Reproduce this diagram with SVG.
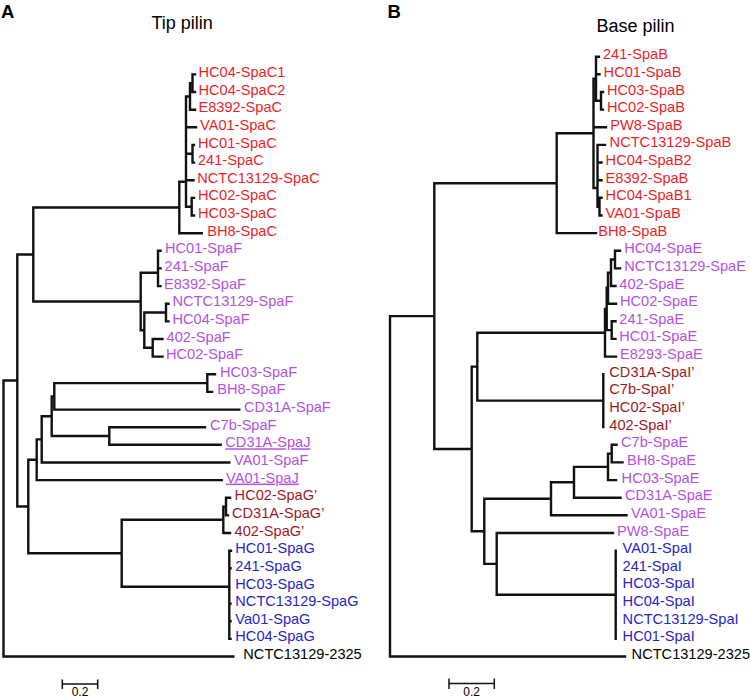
<svg xmlns="http://www.w3.org/2000/svg" width="750" height="698" viewBox="0 0 750 698">
<style>
text{font-family:"Liberation Sans",Arial,sans-serif;font-size:14.6px}
.r{fill:#ea1f29}.p{fill:#b452dd}.d{fill:#9c1a1f}.b{fill:#2626c6}.k{fill:#000}
.u{text-decoration:underline}
.br{fill:none;stroke:#111;stroke-width:2.4;stroke-linecap:square}
.sc{fill:none;stroke:#111;stroke-width:1.5}
.ttl{font-size:18px;fill:#000}
.pl{font-size:18.5px;font-weight:bold;fill:#000}
.s{font-size:12px;fill:#000;text-anchor:middle}
</style>
<rect width="750" height="698" fill="#fff"/>
<g id="titles">
<text class="pl" x="1" y="18.3">A</text>
<text class="ttl" x="151.5" y="28.8">Tip pilin</text>
<text class="pl" x="387.5" y="18.3">B</text>
<text class="ttl" x="596.5" y="32">Base pilin</text>
</g>
<g id="connectors">
<path id="branches-A" class="br" d="M3.5 380.5V656.5H233.3M3.5 380.5H17.3M17.3 254.5V506.5M17.3 254.5H33.3M33.3 207.5V301.5M33.3 207.5H179.3M33.3 301.5H140.7
M179.3 181.7V233.2H201.7M179.3 181.7H186M186 96.5V206.7M186 96.5H190M190 83.2V109.7H195M190 83.2H192.5M192.5 74.4V92M192.5 74.4H195M192.5 92H195M186 127.3H196M186 153.8H192.5M192.5 145V162.6M192.5 145H194M192.5 162.6H194M186 180.2H193.5M186 206.7H191.7M191.7 197.9V215.5M191.7 197.9H194M191.7 215.5H194
M140.7 272.7V330.2M140.7 272.7H158M158 250.8V286.1M158 250.8H160.5M158 268.4H160.5M158 286.1H160.5M140.7 330.2H144.3M144.3 312.5V347.8M144.3 312.5H166M166 303.7V321.4M166 303.7H168.5M166 321.4H168.5M144.3 347.8H152.7M152.7 339V356.6M152.7 339H162.5M152.7 356.6H162.5
M17.3 506.5H28.3M28.3 459.7V553.25M28.3 459.7H36.7M36.7 439.35V480.1H221.7M36.7 439.35H41.7M41.7 416.2V462.5H229.3M41.7 416.2H51.7M51.7 396.35V436H109.3M51.7 396.35H54.3M54.3 383.1V409.6H239.3M54.3 383.1H207.3M207.3 374.3V391.9H212M207.3 374.3H215M109.3 427.2V444.8H220.7M109.3 427.2H205
M28.3 553.25H121.7M121.7 519.8V586.7H229.3M121.7 519.8H223.3M223.3 506.6V533H230M223.3 506.6H226M226 497.8V515.4H228M226 497.8H230M229.3 550.7V638.9M229.3 550.7H231M229.3 568.3H230.5M229.3 603.6H230.5M229.3 621.2H230.5M229.3 638.9H230.5"/>
<path id="branches-B" class="br" d="M390 316.1V656.5H625M390 316.1H434.3M434.3 183.2V449M434.3 183.2H556.7M556.7 133.3V233.1H596M556.7 133.3H593.5M593.5 78.7V188M593.5 78.7H596M596 56.7V100.8M596 56.7H599M596 74.3H599.5M596 100.8H601M601 92V109.6M601 92H603M601 109.6H603M593.5 127.3H606M593.5 188H597.5M597.5 144.9V206.7M597.5 144.9H605M597.5 162.5H601.5M597.5 180.2H601.5M597.5 206.7H599.5M599.5 197.8V215.5M599.5 197.8H601.5M599.5 215.5H601.5
M434.3 449H471.7M471.7 366.65V531.3M471.7 366.65H477.3M477.3 332.7V400.6M477.3 332.7H605M605 309V356.6H616M605 309H606.7M606.7 287.8V330.1M606.7 330.1H611.7M611.7 321.3V338.9H615.5M611.7 321.3H615.5M606.7 287.8H608M608 272.8V303.7H616M608 272.8H611M611 259.5V286H615.5M611 259.5H615M615 250.7V268.4H620M615 250.7H620M477.3 400.6H603.3M603.3 374.2V427.1
M471.7 531.3H484.3M484.3 498.8V563.85M484.3 498.8H551M551 482.3V515.3H626.5M551 482.3H574M574 466.85V497.7H620.5M574 466.85H608M608 453.6V480.1H616M608 453.6H611.7M611.7 444.8V462.4H622.5M611.7 444.8H616.5M484.3 563.85H496.7M496.7 533V594.7H615.7M496.7 533H613M615.7 550.6V638.8"/>
</g>
<g id="scale-A"><path class="sc" d="M62.3 684H97.7M62.3 679.5V689M97.7 679.5V689"/><text class="s" x="80" y="695.5">0.2</text></g>
<g id="scale-B"><path class="sc" d="M449 683.5H494.3M449 678.5V689M494.3 678.5V689"/><text class="s" x="471.7" y="695.5">0.2</text></g>
<g id="leaves-A">
<g id="a00"><text class="r" x="198.5" y="76.9">HC04-SpaC1</text></g>
<g id="a01"><text class="r" x="198.5" y="94.5">HC04-SpaC2</text></g>
<g id="a02"><text class="r" x="198.5" y="112.2">E8392-SpaC</text></g>
<g id="a03"><text class="r" x="200" y="129.8">VA01-SpaC</text></g>
<g id="a04"><text class="r" x="198" y="147.5">HC01-SpaC</text></g>
<g id="a05"><text class="r" x="198" y="165.1">241-SpaC</text></g>
<g id="a06"><text class="r" x="197.2" y="182.7">NCTC13129-SpaC</text></g>
<g id="a07"><text class="r" x="198" y="200.4">HC02-SpaC</text></g>
<g id="a08"><text class="r" x="198" y="218">HC03-SpaC</text></g>
<g id="a09"><text class="r" x="207.2" y="235.7">BH8-SpaC</text></g>
<g id="a10"><text class="p" x="165" y="253.3">HC01-SpaF</text></g>
<g id="a11"><text class="p" x="164.6" y="270.9">241-SpaF</text></g>
<g id="a12"><text class="p" x="164" y="288.6">E8392-SpaF</text></g>
<g id="a13"><text class="p" x="172.5" y="306.2">NCTC13129-SpaF</text></g>
<g id="a14"><text class="p" x="172.5" y="323.9">HC04-SpaF</text></g>
<g id="a15"><text class="p" x="166.6" y="341.5">402-SpaF</text></g>
<g id="a16"><text class="p" x="166" y="359.1">HC02-SpaF</text></g>
<g id="a17"><text class="p" x="220" y="376.8">HC03-SpaF</text></g>
<g id="a18"><text class="p" x="217.2" y="394.4">BH8-SpaF</text></g>
<g id="a19"><text class="p" x="244" y="412.1">CD31A-SpaF</text></g>
<g id="a20"><text class="p" x="210" y="429.7">C7b-SpaF</text></g>
<g id="a21"><text class="p u" x="225.3" y="447.3">CD31A-SpaJ</text></g>
<g id="a22"><text class="p" x="234" y="465">VA01-SpaF</text></g>
<g id="a23"><text class="p u" x="226" y="482.6">VA01-SpaJ</text></g>
<g id="a24"><text class="d" x="234.6" y="500.3">HC02-SpaG’</text></g>
<g id="a25"><text class="d" x="232" y="517.9">CD31A-SpaG’</text></g>
<g id="a26"><text class="d" x="234.6" y="535.5">402-SpaG’</text></g>
<g id="a27"><text class="b" x="235.3" y="553.2">HC01-SpaG</text></g>
<g id="a28"><text class="b" x="235.3" y="570.8">241-SpaG</text></g>
<g id="a29"><text class="b" x="235.3" y="588.5">HC03-SpaG</text></g>
<g id="a30"><text class="b" x="235.3" y="606.1">NCTC13129-SpaG</text></g>
<g id="a31"><text class="b" x="235.3" y="623.7">Va01-SpaG</text></g>
<g id="a32"><text class="b" x="235.3" y="641.4">HC04-SpaG</text></g>
<g id="a33"><text class="k" x="243.3" y="659">NCTC13129-2325</text></g>
</g>
<g id="leaves-B">
<g id="b00"><text class="r" x="603" y="59.2">241-SpaB</text></g>
<g id="b01"><text class="r" x="603.6" y="76.8">HC01-SpaB</text></g>
<g id="b02"><text class="r" x="607" y="94.5">HC03-SpaB</text></g>
<g id="b03"><text class="r" x="607" y="112.1">HC02-SpaB</text></g>
<g id="b04"><text class="r" x="610.3" y="129.8">PW8-SpaB</text></g>
<g id="b05"><text class="r" x="609.6" y="147.4">NCTC13129-SpaB</text></g>
<g id="b06"><text class="r" x="605.6" y="165">HC04-SpaB2</text></g>
<g id="b07"><text class="r" x="605.6" y="182.7">E8392-SpaB</text></g>
<g id="b08"><text class="r" x="605.6" y="200.3">HC04-SpaB1</text></g>
<g id="b09"><text class="r" x="605.6" y="218">VA01-SpaB</text></g>
<g id="b10"><text class="r" x="598.3" y="235.6">BH8-SpaB</text></g>
<g id="b11"><text class="p" x="624.3" y="253.2">HC04-SpaE</text></g>
<g id="b12"><text class="p" x="624.3" y="270.9">NCTC13129-SpaE</text></g>
<g id="b13"><text class="p" x="619.3" y="288.5">402-SpaE</text></g>
<g id="b14"><text class="p" x="620" y="306.2">HC02-SpaE</text></g>
<g id="b15"><text class="p" x="619.3" y="323.8">241-SpaE</text></g>
<g id="b16"><text class="p" x="619.3" y="341.4">HC01-SpaE</text></g>
<g id="b17"><text class="p" x="620" y="359.1">E8293-SpaE</text></g>
<g id="b18"><text class="d" x="609.3" y="376.7">CD31A-SpaI’</text></g>
<g id="b19"><text class="d" x="609.3" y="394.4">C7b-SpaI’</text></g>
<g id="b20"><text class="d" x="609.3" y="412">HC02-SpaI’</text></g>
<g id="b21"><text class="d" x="609.3" y="429.6">402-SpaI’</text></g>
<g id="b22"><text class="p" x="621" y="447.3">C7b-SpaE</text></g>
<g id="b23"><text class="p" x="627" y="464.9">BH8-SpaE</text></g>
<g id="b24"><text class="p" x="621.6" y="482.6">HC03-SpaE</text></g>
<g id="b25"><text class="p" x="625" y="500.2">CD31A-SpaE</text></g>
<g id="b26"><text class="p" x="631" y="517.8">VA01-SpaE</text></g>
<g id="b27"><text class="p" x="617" y="535.5">PW8-SpaE</text></g>
<g id="b28"><text class="b" x="622.6" y="553.1">VA01-SpaI</text></g>
<g id="b29"><text class="b" x="622.6" y="570.8">241-SpaI</text></g>
<g id="b30"><text class="b" x="622.6" y="588.4">HC03-SpaI</text></g>
<g id="b31"><text class="b" x="622.6" y="606">HC04-SpaI</text></g>
<g id="b32"><text class="b" x="622.6" y="623.7">NCTC13129-SpaI</text></g>
<g id="b33"><text class="b" x="622.6" y="641.3">HC01-SpaI</text></g>
<g id="b34"><text class="k" x="631.6" y="659">NCTC13129-2325</text></g>
</g>
</svg>
